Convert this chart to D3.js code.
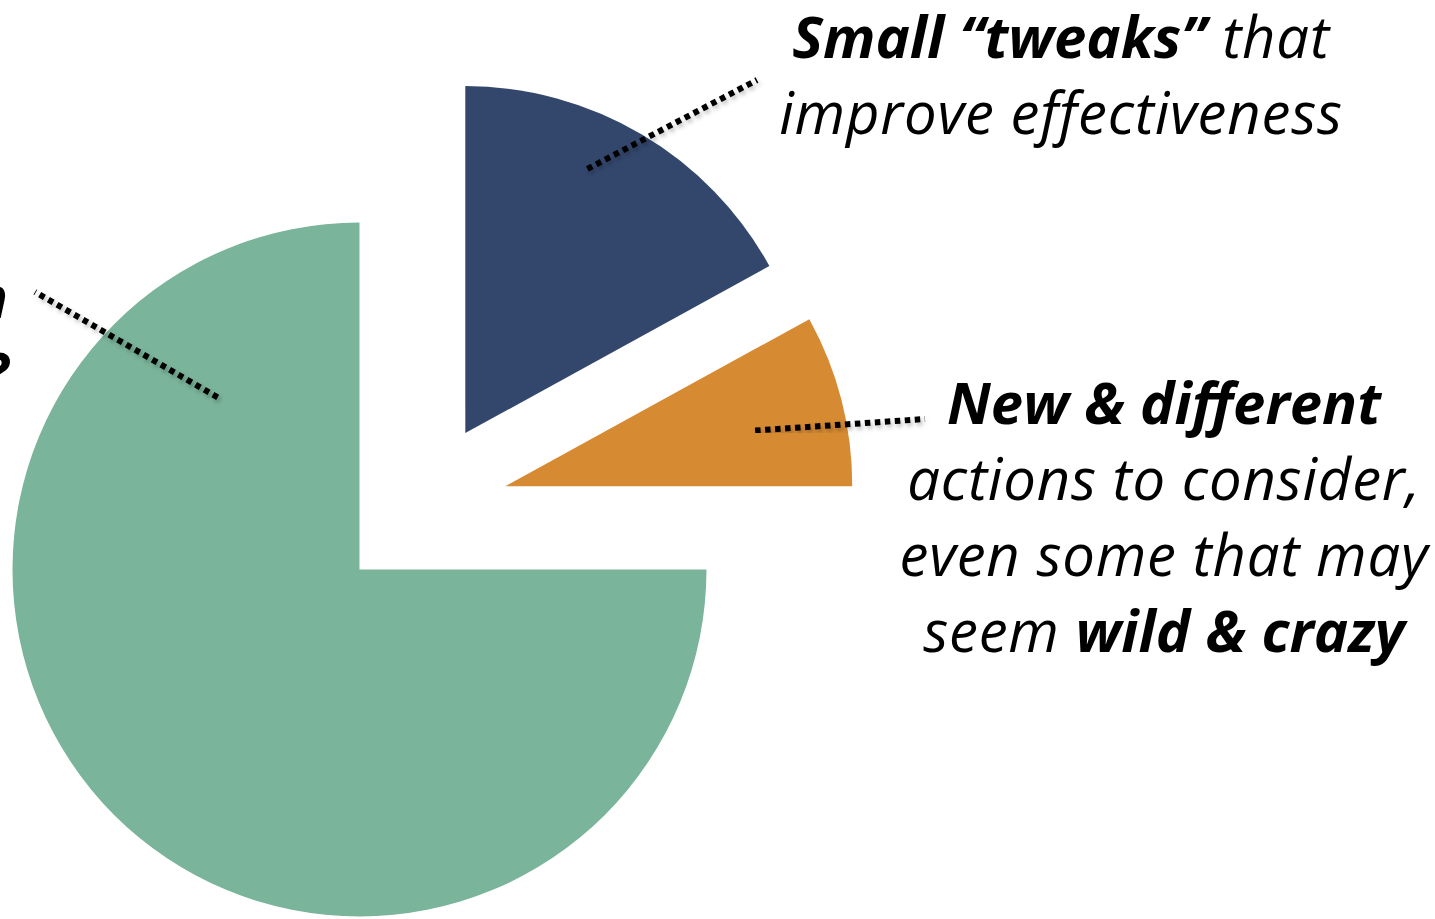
<!DOCTYPE html>
<html>
<head>
<meta charset="utf-8">
<script src="https://cdn.jsdelivr.net/npm/d3@7"></script>
<style>
  html, body { margin: 0; padding: 0; background: #fff; overflow: hidden; }
  svg { display: block; }
  text { font-family: 'Open Sans', sans-serif; font-style: italic; fill: #000; }
</style>
</head>
<body>
<svg id="chart" width="1435" height="919"></svg>
<script>
// slice data (share of pie, clockwise from 12 o'clock)
const slices = ['tweaks', 'new', 'keep']
const shares = [17, 8, 75]
const colors = ['#33476d', '#d68a32', '#7ab49b']

// labels: each line is a list of [text, bold]
const labelLines = {
  tweaks: [
    [['Small “tweaks”', true], [' that', false]],
    [['improve effectiveness', false]],
  ],
  new: [
    [['New & different', true]],
    [['actions to consider,', false]],
    [['even some that may', false]],
    [['seem ', false], ['wild & crazy', true]],
  ],
  keep: [
    [['Keep doing what’s work', false], ['in', true]],
    [['the current plan', false], ['?', true]],
  ],
}

// leader line: angle (deg) + radius from slice tip, and outer end point
const leaders = {
  tweaks: { angle: 24.8, r: 291, end: [757, 80] },
  new: { angle: 77.4, r: 256, end: [925, 419] },
  keep: { angle: 320.5, r: 223, end: [35, 292] },
}

const width = 1435
const height = 919
const center = [421, 508]
const radius = 347
const explode = 87
const fontSize = 58
const lineGap = 76

const svg = d3.select('#chart')

const defs = svg.append('defs')
const shadow = defs.append('filter').attr('id', 'shadow')
  .attr('x', '-20%').attr('y', '-20%').attr('width', '140%').attr('height', '140%')
shadow.append('feDropShadow')
  .attr('dx', 2).attr('dy', 3).attr('stdDeviation', 2)
  .attr('flood-color', '#000').attr('flood-opacity', 0.25)

const pie = d3.pie().sort(null).value((d) => d)
const arcs = pie(shares)
const arc = d3.arc().innerRadius(0).outerRadius(radius)

// offset of an exploded slice
const tip = (a) => {
  const mid = (a.startAngle + a.endAngle) / 2
  return [center[0] + explode * Math.sin(mid), center[1] - explode * Math.cos(mid)]
}

const g = svg.append('g')
g.selectAll('path')
  .data(arcs)
  .join('path')
  .attr('transform', (d) => `translate(${tip(d)})`)
  .attr('d', arc)
  .attr('fill', (d, i) => colors[i])

// leader lines
arcs.forEach((a, i) => {
  const l = leaders[slices[i]]
  const t = tip(a)
  const ang = (l.angle * Math.PI) / 180
  const x0 = t[0] + l.r * Math.sin(ang)
  const y0 = t[1] - l.r * Math.cos(ang)
  svg.append('line')
    .attr('x1', x0).attr('y1', y0)
    .attr('x2', l.end[0]).attr('y2', l.end[1])
    .attr('stroke', '#000')
    .attr('stroke-width', 6)
    .attr('stroke-dasharray', '5.5,4.5')
    .attr('filter', 'url(#shadow)')
})

// labels
const labelPos = {
  tweaks: { x: 1061, y: 58, anchor: 'middle' },
  new: { x: 1164, y: 424, anchor: 'middle' },
  keep: { x: 8, y: 318, anchor: 'end' },
}

slices.forEach((key) => {
  const p = labelPos[key]
  const t = svg.append('text')
    .attr('text-anchor', p.anchor)
    .attr('font-size', fontSize)
  labelLines[key].forEach((line, li) => {
    line.forEach(([str, bold], si) => {
      const span = t.append('tspan')
        .text(str)
        .attr('font-weight', bold ? 700 : 400)
        .attr('letter-spacing', bold ? 0 : 0.8)
      if (si === 0) span.attr('x', p.x).attr('y', p.y + li * lineGap)
    })
  })
})
</script>
</body>
</html>
